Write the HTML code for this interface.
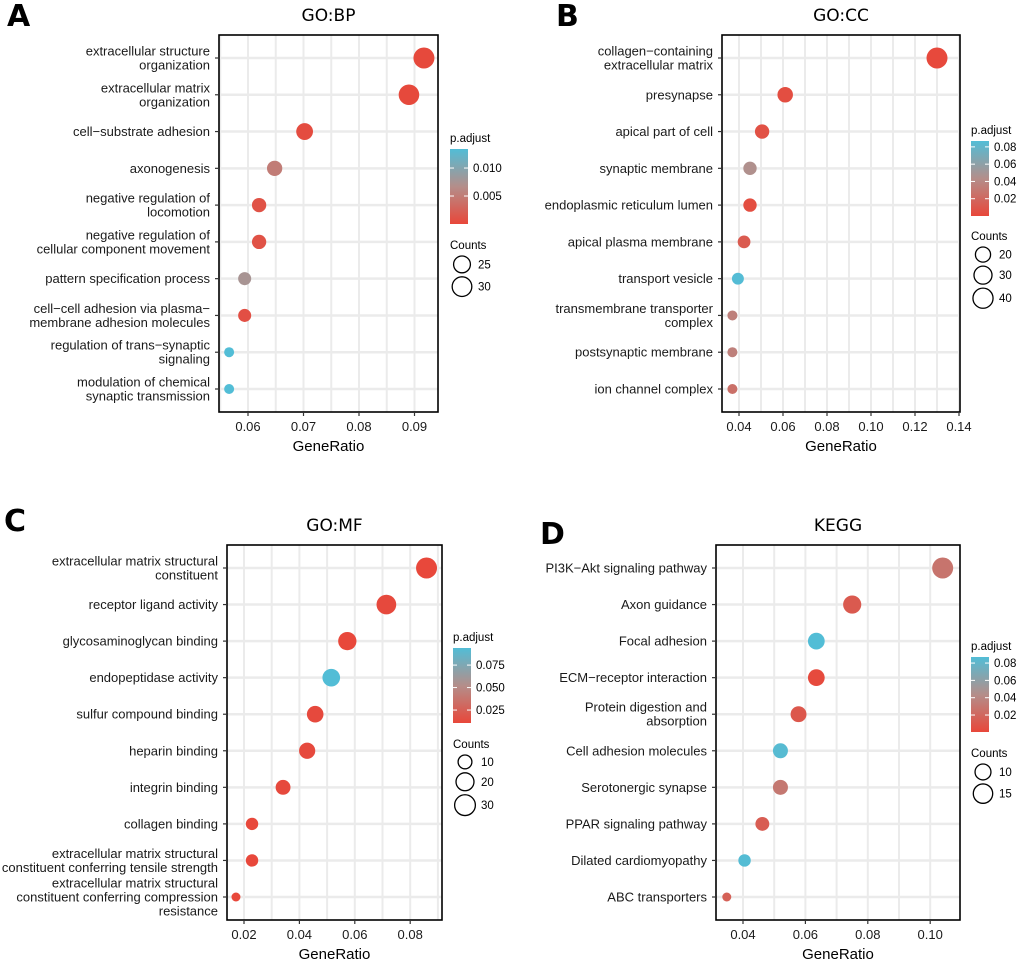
<!DOCTYPE html>
<html><head><meta charset="utf-8">
<style>
html,body{margin:0;padding:0;background:#fff;}
svg{display:block;font-family:"Liberation Sans",sans-serif;}
</style></head>
<body>
<svg id="fig" width="1020" height="964" viewBox="0 0 1020 964" xmlns="http://www.w3.org/2000/svg">
<defs>
<linearGradient id="cbar" x1="0" y1="1" x2="0" y2="0">
<stop offset="0" stop-color="#E8473A"/>
<stop offset="0.5" stop-color="#B48E8A"/>
<stop offset="1" stop-color="#52BDD6"/>
</linearGradient>
</defs>
</svg>
<script>
// ---- Panel A: GO:BP ----
const bpTerms = [["extracellular structure","organization"],["extracellular matrix","organization"],["cell\u2212substrate adhesion"],["axonogenesis"],["negative regulation of","locomotion"],["negative regulation of","cellular component movement"],["pattern specification process"],["cell\u2212cell adhesion via plasma\u2212","membrane adhesion molecules"],["regulation of trans\u2212synaptic","signaling"],["modulation of chemical","synaptic transmission"]];
const bpRatio = [0.0917,0.0890,0.0702,0.0648,0.0620,0.0620,0.0594,0.0594,0.0566,0.0566];
const bpCount = [33,32,25,23,22,22,21,21,20,20];
const bpPadj = [0.0002,0.0002,0.0005,0.005,0.001,0.001,0.0075,0.0008,0.0134,0.0134];
const bpXTicks = [0.06,0.07,0.08,0.09];
const bpCbTicks = [0.010,0.005];
const bpCbLabels = ["0.010","0.005"];
const bpSizeLegend = [25,30];
// ---- Panel B: GO:CC ----
const ccTerms = [["collagen\u2212containing","extracellular matrix"],["presynapse"],["apical part of cell"],["synaptic membrane"],["endoplasmic reticulum lumen"],["apical plasma membrane"],["transport vesicle"],["transmembrane transporter","complex"],["postsynaptic membrane"],["ion channel complex"]];
const ccRatio = [0.130,0.061,0.0505,0.045,0.045,0.0423,0.0395,0.037,0.037,0.037];
const ccCount = [45,21,18,16,16,15,14,13,13,13];
const ccPadj = [0.001,0.004,0.006,0.045,0.004,0.012,0.086,0.035,0.035,0.025];
const ccXTicks = [0.04,0.06,0.08,0.10,0.12,0.14];
const ccCbTicks = [0.08,0.06,0.04,0.02];
const ccCbLabels = ["0.08","0.06","0.04","0.02"];
const ccSizeLegend = [20,30,40];
// ---- Panel C: GO:MF ----
const mfTerms = [["extracellular matrix structural","constituent"],["receptor ligand activity"],["glycosaminoglycan binding"],["endopeptidase activity"],["sulfur compound binding"],["heparin binding"],["integrin binding"],["collagen binding"],["extracellular matrix structural","constituent conferring tensile strength"],["extracellular matrix structural","constituent conferring compression","resistance"]];
const mfRatio = [0.0859,0.0714,0.0573,0.0515,0.0457,0.0428,0.0341,0.0229,0.0229,0.0171];
const mfCount = [31,26,21,19,16,15,12,8,8,6];
const mfPadj = [0.011,0.012,0.011,0.094,0.012,0.012,0.012,0.011,0.011,0.011];
const mfXTicks = [0.02,0.04,0.06,0.08];
const mfCbTicks = [0.075,0.050,0.025];
const mfCbLabels = ["0.075","0.050","0.025"];
const mfSizeLegend = [10,20,30];
// ---- Panel D: KEGG ----
const kgTerms = [["PI3K\u2212Akt signaling pathway"],["Axon guidance"],["Focal adhesion"],["ECM\u2212receptor interaction"],["Protein digestion and","absorption"],["Cell adhesion molecules"],["Serotonergic synapse"],["PPAR signaling pathway"],["Dilated cardiomyopathy"],["ABC transporters"]];
const kgRatio = [0.104,0.075,0.0635,0.0635,0.0578,0.052,0.052,0.0462,0.0405,0.0348];
const kgCount = [18,13,11,11,10,9,9,8,7,6];
const kgPadj = [0.028,0.012,0.087,0.002,0.01,0.085,0.03,0.014,0.086,0.016];
const kgXTicks = [0.04,0.06,0.08,0.10];
const kgCbTicks = [0.08,0.06,0.04,0.02];
const kgCbLabels = ["0.08","0.06","0.04","0.02"];
const kgSizeLegend = [10,15];

const NS = "http://www.w3.org/2000/svg";
const svg = document.getElementById('fig');
function mk(tag, attrs, parent, text){
  const e = document.createElementNS(NS, tag);
  for (const k in attrs) e.setAttribute(k, attrs[k]);
  if (text !== undefined) e.textContent = text;
  (parent||svg).appendChild(e);
  return e;
}
function lerp(a,b,t){return a+(b-a)*t;}
function colorFor(t){
  t=Math.max(0,Math.min(1,t));
  const r=[232,71,58], m=[180,142,138], b=[82,189,214];
  let c;
  if(t<0.5){const u=t/0.5;c=r.map((v,i)=>Math.round(lerp(v,m[i],u)));}
  else{const u=(t-0.5)/0.5;c=m.map((v,i)=>Math.round(lerp(v,b[i],u)));}
  return `rgb(${c[0]},${c[1]},${c[2]})`;
}

function panel(cfg){
  const g = mk('g',{});
  
  
  const {x0,x1,y0,y1,dMin,px0,pxPer} = cfg;
  const xs = v => px0 + (v - dMin)*pxPer;
  const n = cfg.terms.length;
  const rowTop = y0 + 23, rowStep = (y1 - y0 - 46)/(n-1);
  const ys = i => rowTop + i*rowStep;
  const L = mk('text',{x:cfg.letterX,y:cfg.letterY,'font-size':30,'font-weight':'bold','font-family':'"DejaVu Sans","Liberation Sans",sans-serif'},g,cfg.letter);
   
  const T = mk('text',{x:(x0+x1)/2,y:y0-14,'font-size':17,'text-anchor':'middle','font-family':'"DejaVu Sans","Liberation Sans",sans-serif'},g,cfg.title);
   
  const grid = mk('g',{},g);
   
  const step = cfg.xTicks[1]-cfg.xTicks[0];
  for(let v = cfg.xTicks[0]-step/2; v <= cfg.xTicks[cfg.xTicks.length-1]+step; v += step/2){
    const X = xs(v); if(X<=x0||X>=x1) continue;
    mk('line',{x1:X,x2:X,y1:y0,y2:y1,stroke:'#ebebeb','stroke-width':2},grid);
  }
  for(let i=0;i<n;i++) mk('line',{x1:x0,x2:x1,y1:ys(i),y2:ys(i),stroke:'#ebebeb','stroke-width':2.5},grid);
  const cMin=Math.min(...cfg.counts), cMax=Math.max(...cfg.counts);
  const rad = c => cfg.rMin + (cfg.rMax-cfg.rMin)*Math.sqrt(Math.max(0,(c-cMin)/(cMax-cMin)));
  const col = p => colorFor((p-cfg.pMin)/(cfg.pMax-cfg.pMin));
  for(let i=0;i<n;i++){
    const c = mk('circle',{cx:xs(cfg.ratio[i]),cy:ys(i),r:rad(cfg.counts[i]),fill:col(cfg.padj[i])},g);
    
    
  }
  const B = mk('rect',{x:x0,y:y0,width:x1-x0,height:y1-y0,fill:'none',stroke:'#000','stroke-width':1.6},g);
   
  for(let i=0;i<n;i++){
    mk('line',{x1:x0-4,x2:x0,y1:ys(i),y2:ys(i),stroke:'#333','stroke-width':1.2},g);
    const lines = cfg.terms[i];
    const lh = 14;
    const start = ys(i) + 4.5 - (lines.length-1)*lh/2;
    const t = mk('text',{x:x0-9,y:start,'font-size':13,'text-anchor':'end',fill:'#1a1a1a'},g);
    
    
    lines.forEach((s,k)=>mk('tspan',{x:x0-9,dy:k?lh:0},t,s));
  }
  cfg.xTicks.forEach(v=>{
    const X=xs(v);
    mk('line',{x1:X,x2:X,y1:y1,y2:y1+4,stroke:'#333','stroke-width':1.2},g);
    const t=mk('text',{x:X,y:y1+19,'font-size':13,'text-anchor':'middle',fill:'#1a1a1a'},g,v.toFixed(2));
     
  });
  const xt = mk('text',{x:(x0+x1)/2,y:y1+39,'font-size':15,'text-anchor':'middle'},g,'GeneRatio');
   
  const lx = cfg.lx, cb0 = cfg.cbTop, cb1 = cfg.cbTop+75;
  const lt = mk('text',{x:lx,y:cb0-7,'font-size':11.5},g,'p.adjust');
   
  const cb = mk('rect',{x:lx,y:cb0,width:18,height:75,fill:'url(#cbar)'},g);
   
  const cy = p => cb1 - (p-cfg.pMin)/(cfg.pMax-cfg.pMin)*75;
  cfg.cbTicks.forEach((p,k)=>{
    const Y=cy(p);
    mk('line',{x1:lx,x2:lx+4,y1:Y,y2:Y,stroke:'#fff','stroke-width':1},g);
    mk('line',{x1:lx+14,x2:lx+18,y1:Y,y2:Y,stroke:'#fff','stroke-width':1},g);
    const t=mk('text',{x:lx+23,y:Y+4,'font-size':11.5},g,cfg.cbLabels[k]);
     
  });
  const ct = mk('text',{x:lx,y:cfg.cntY,'font-size':11.5},g,'Counts');
   
  let yy = cfg.cntY+4;
  cfg.sizeLegend.forEach(c=>{
    const r = rad(c);
    yy += Math.max(r,6)+3;
    mk('circle',{cx:lx+12,cy:yy,r:r,fill:'none',stroke:'#000','stroke-width':1.3},g);
    const t=mk('text',{x:lx+28,y:yy+4,'font-size':11.5},g,String(c));
     
    yy += Math.max(r,6)+1;
  });
}

panel({name:'panel-a-go-bp',letter:'A',letterX:7,letterY:26,title:'GO:BP',x0:219,x1:438,y0:35,y1:412,
  dMin:0.06,px0:248,pxPer:5550,terms:bpTerms,ratio:bpRatio,counts:bpCount,padj:bpPadj,xTicks:bpXTicks,
  rMin:5,rMax:10.5,pMin:0,pMax:0.0134,lx:450,cbTop:149,cbTicks:bpCbTicks,cbLabels:bpCbLabels,cntY:249,sizeLegend:bpSizeLegend});
panel({name:'panel-b-go-cc',letter:'B',letterX:556,letterY:26,title:'GO:CC',x0:722,x1:960,y0:35,y1:412,
  dMin:0.04,px0:739,pxPer:2200,terms:ccTerms,ratio:ccRatio,counts:ccCount,padj:ccPadj,xTicks:ccXTicks,
  rMin:5,rMax:10.5,pMin:0,pMax:0.0868,lx:971,cbTop:141,cbTicks:ccCbTicks,cbLabels:ccCbLabels,cntY:240,sizeLegend:ccSizeLegend});
panel({name:'panel-c-go-mf',letter:'C',letterX:4,letterY:531,title:'GO:MF',x0:227,x1:442,y0:545,y1:920,
  dMin:0.02,px0:244,pxPer:2770,terms:mfTerms,ratio:mfRatio,counts:mfCount,padj:mfPadj,xTicks:mfXTicks,
  rMin:4.5,rMax:10.5,pMin:0.0106,pMax:0.094,lx:453,cbTop:648,cbTicks:mfCbTicks,cbLabels:mfCbLabels,cntY:748,sizeLegend:mfSizeLegend});
panel({name:'panel-d-kegg',letter:'D',letterX:540,letterY:544,title:'KEGG',x0:716,x1:960,y0:545,y1:920,
  dMin:0.04,px0:743,pxPer:3120,terms:kgTerms,ratio:kgRatio,counts:kgCount,padj:kgPadj,xTicks:kgXTicks,
  rMin:4.5,rMax:10.5,pMin:0.0004,pMax:0.087,lx:971,cbTop:657,cbTicks:kgCbTicks,cbLabels:kgCbLabels,cntY:757,sizeLegend:kgSizeLegend});
</script>
</body></html>
